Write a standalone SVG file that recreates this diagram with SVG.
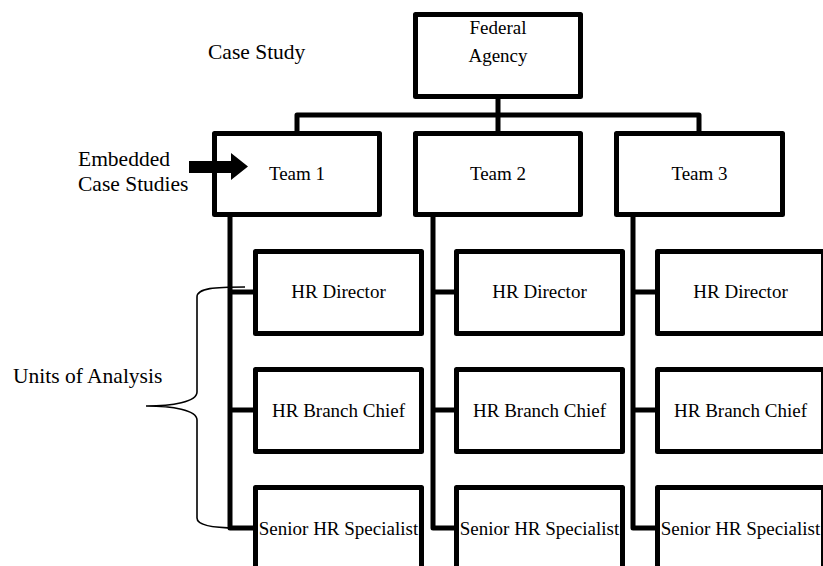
<svg xmlns="http://www.w3.org/2000/svg" width="823" height="566" viewBox="0 0 823 566">
<style>
.box{fill:#fff;stroke:#000;stroke-width:5;stroke-linejoin:round}
.con{fill:none;stroke:#000;stroke-width:5;stroke-linejoin:round}
.t{font-family:"Liberation Serif","DejaVu Serif",serif;font-size:19px;fill:#000;text-anchor:middle}
.lbl{font-family:"Liberation Serif","DejaVu Serif",serif;font-size:21.5px;fill:#000}
</style>
<rect width="823" height="566" fill="#fff"/>
<g id="connectors">
<path class="con" d="M498,99 V131 M297,131 V115 H699 V131"/>
<path class="con" d="M230,217 V528 H256 M230,292 H256 M230,410 H256"/>
<path class="con" d="M433,217 V528 H457 M433,292 H457 M433,410 H457"/>
<path class="con" d="M633,217 V528 H658 M633,292 H658 M633,410 H658"/>
</g>
<g id="federal-agency"><rect class="box" x="415.5" y="14.5" width="165" height="82"/><text class="t" x="498" y="34">Federal</text><text class="t" x="498" y="62">Agency</text></g>
<g id="team1"><rect class="box" x="214.5" y="133.5" width="165" height="81"/><text class="t" x="297" y="180">Team 1</text></g>
<g id="team2"><rect class="box" x="415.5" y="133.5" width="165" height="81"/><text class="t" x="498" y="180">Team 2</text></g>
<g id="team3"><rect class="box" x="616.5" y="133.5" width="166" height="81"/><text class="t" x="699.5" y="180">Team 3</text></g>
<g id="t1-director"><rect class="box" x="255.5" y="251.5" width="166" height="82"/><text class="t" x="338.5" y="298">HR Director</text></g>
<g id="t1-chief"><rect class="box" x="255.5" y="369.5" width="166" height="82"/><text class="t" x="338.5" y="417">HR Branch Chief</text></g>
<g id="t1-specialist"><rect class="box" x="255.5" y="487.5" width="166" height="100"/><text class="t" x="338.5" y="535">Senior HR Specialist</text></g>
<g id="t2-director"><rect class="box" x="456.5" y="251.5" width="166" height="82"/><text class="t" x="539.5" y="298">HR Director</text></g>
<g id="t2-chief"><rect class="box" x="456.5" y="369.5" width="166" height="82"/><text class="t" x="539.5" y="417">HR Branch Chief</text></g>
<g id="t2-specialist"><rect class="box" x="456.5" y="487.5" width="166" height="100"/><text class="t" x="539.5" y="535">Senior HR Specialist</text></g>
<g id="t3-director"><rect class="box" x="657.5" y="251.5" width="166" height="82"/><text class="t" x="740.5" y="298">HR Director</text></g>
<g id="t3-chief"><rect class="box" x="657.5" y="369.5" width="166" height="82"/><text class="t" x="740.5" y="417">HR Branch Chief</text></g>
<g id="t3-specialist"><rect class="box" x="657.5" y="487.5" width="166" height="100"/><text class="t" x="740.5" y="535">Senior HR Specialist</text></g>
<g id="case-study"><text class="lbl" x="208" y="59">Case Study</text></g>
<g id="embedded"><text class="lbl" x="78" y="166">Embedded</text><text class="lbl" x="78" y="191">Case Studies</text>
<path d="M189,161 H231 V153 L248,166.5 L231,180 V173 H189 Z" fill="#000"/></g>
<g id="units"><text class="lbl" x="13" y="383">Units of Analysis</text>
<path d="M245,287 C215,287 197,288 197,297 L197,392 C197,402 172,406 146,406 C172,406 197,410 197,420 L197,518 C197,526 215,528 237,528" fill="none" stroke="#000" stroke-width="1.6"/></g>
</svg>
